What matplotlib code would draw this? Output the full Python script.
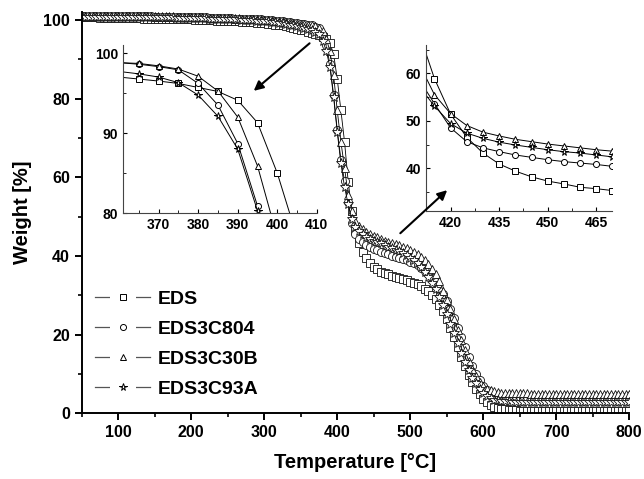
import matplotlib

matplotlib.use("Agg")
import matplotlib.pyplot as plt
import numpy as np
from matplotlib.legend_handler import HandlerTuple
from matplotlib.lines import Line2D
from matplotlib.ticker import MultipleLocator

plt.rcParams["font.family"] = ["Liberation Sans", "DejaVu Sans"]
plt.rcParams["font.weight"] = "bold"

# Temperature grid of the TGA runs, every 5 °C
temperature = np.arange(50, 805, 5)

# Weight [%], one value per temperature step
eds = [
    100.6, 100.6, 100.6, 100.6, 100.6, 100.5, 100.5, 100.5, 100.5, 100.5,
    100.5, 100.5, 100.4, 100.4, 100.4, 100.4, 100.4, 100.3, 100.3, 100.3,
    100.3, 100.3, 100.2, 100.2, 100.2, 100.2, 100.2, 100.1, 100.1, 100.1,
    100.1, 100.0, 100.0, 100.0, 99.9, 99.9, 99.9, 99.8, 99.8, 99.8,
    99.7, 99.7, 99.6, 99.6, 99.5, 99.5, 99.4, 99.4, 99.3, 99.2,
    99.1, 99.0, 98.9, 98.8, 98.7, 98.6, 98.4, 98.2, 98.0, 97.8, 97.5, 97.3, 97.0,
    96.75, 96.5, 96.2, 95.7, 95.2, 94.1, 91.3, 85.0, 77.0, 69.0,
    58.9, 51.4, 46.5, 43.2, 40.9, 39.4, 38.2, 37.3, 36.7, 36.0, 35.7, 35.3,
    35.0, 34.7, 34.4, 34.1, 33.8, 33.5, 33.2, 32.8, 32.3, 31.7, 31.0,
    30.1, 29.0, 27.6, 26.0, 24.0, 21.8, 19.4, 16.9, 14.4, 12.0,
    9.8, 7.9, 6.2, 4.8, 3.7, 2.8, 2.2, 1.7, 1.4, 1.2,
    1.0, 0.9, 0.8, 0.8, 0.7,
    0.7, 0.7, 0.7, 0.7, 0.7, 0.7, 0.7, 0.6, 0.6, 0.6,
    0.6, 0.6, 0.6, 0.6, 0.6, 0.6, 0.6, 0.6, 0.6, 0.5,
    0.5, 0.5, 0.5, 0.5, 0.5, 0.5, 0.5, 0.5, 0.5, 0.5,
]
eds3c804 = [
    101.0, 101.0, 101.0, 101.0, 101.0, 101.0, 101.0, 101.0, 101.0, 101.0,
    101.0, 101.0, 100.9, 100.9, 100.9, 100.9, 100.9, 100.9, 100.9, 100.9,
    100.8, 100.8, 100.8, 100.8, 100.8, 100.8, 100.7, 100.7, 100.7, 100.7,
    100.7, 100.6, 100.6, 100.6, 100.6, 100.5, 100.5, 100.5, 100.5, 100.4,
    100.4, 100.4, 100.3, 100.3, 100.3, 100.2, 100.2, 100.2, 100.1, 100.1,
    100.0, 100.0, 99.9, 99.8, 99.7, 99.6, 99.5, 99.4, 99.3, 99.1, 99.0, 98.9, 98.8,
    98.6, 98.3, 97.9, 96.2, 93.5, 88.7, 80.9, 72.0, 64.5, 59.0,
    53.6, 48.5, 45.6, 44.3, 43.5, 42.8, 42.3, 41.8, 41.4, 41.1, 40.8, 40.4,
    40.1, 39.8, 39.5, 39.2, 38.9, 38.5, 38.1, 37.6, 37.0, 36.3, 35.5,
    34.5, 33.3, 31.9, 30.3, 28.5, 26.5, 24.2, 21.8, 19.3, 16.8,
    14.4, 12.1, 10.1, 8.4, 7.0, 5.9, 5.1, 4.6, 4.3, 4.1,
    4.0, 4.0, 3.9, 3.9, 3.9,
    3.9, 3.9, 3.9, 3.9, 3.9, 3.9, 3.9, 3.9, 3.9, 3.9,
    3.9, 3.9, 3.9, 3.9, 3.8, 3.8, 3.8, 3.8, 3.8, 3.8,
    3.8, 3.8, 3.8, 3.8, 3.8, 3.8, 3.8, 3.8, 3.8, 3.8,
]
eds3c30b = [
    101.0, 101.0, 101.0, 101.0, 101.0, 101.0, 101.0, 101.0, 101.0, 101.0,
    101.0, 101.0, 100.9, 100.9, 100.9, 100.9, 100.9, 100.9, 100.9, 100.9,
    100.8, 100.8, 100.8, 100.8, 100.8, 100.8, 100.7, 100.7, 100.7, 100.7,
    100.7, 100.6, 100.6, 100.6, 100.6, 100.5, 100.5, 100.5, 100.5, 100.4,
    100.4, 100.4, 100.3, 100.3, 100.3, 100.2, 100.2, 100.2, 100.1, 100.1,
    100.0, 100.0, 99.9, 99.8, 99.7, 99.6, 99.5, 99.4, 99.3, 99.2, 99.0, 98.9, 98.8,
    98.7, 98.4, 98.0, 97.1, 95.25, 92.0, 85.9, 77.0, 69.0, 62.4,
    55.5, 51.5, 49.0, 47.6, 46.8, 46.1, 45.6, 45.1, 44.7, 44.3, 43.9, 43.6,
    43.3, 43.0, 42.7, 42.3, 41.9, 41.5, 41.0, 40.4, 39.7, 38.9, 37.9,
    36.7, 35.3, 33.6, 31.2, 28.8, 26.4, 23.9, 21.3, 18.7, 16.0,
    13.4, 11.2, 9.4, 8.0, 7.0, 6.3, 5.9, 5.6, 5.4, 5.3,
    5.2, 5.2, 5.1, 5.1, 5.1,
    5.1, 5.1, 5.0, 5.0, 5.0, 5.0, 5.0, 5.0, 5.0, 5.0,
    5.0, 5.0, 5.0, 5.0, 5.0, 5.0, 5.0, 5.0, 5.0, 5.0,
    5.0, 5.0, 5.0, 5.0, 5.0, 5.0, 5.0, 5.0, 5.0, 5.0,
]
eds3c93a = [
    100.8, 100.8, 100.8, 100.8, 100.8, 100.8, 100.8, 100.8, 100.8, 100.8,
    100.8, 100.8, 100.7, 100.7, 100.7, 100.7, 100.7, 100.7, 100.7, 100.7,
    100.6, 100.6, 100.6, 100.6, 100.6, 100.6, 100.5, 100.5, 100.5, 100.5,
    100.5, 100.4, 100.4, 100.4, 100.4, 100.3, 100.3, 100.3, 100.3, 100.2,
    100.2, 100.2, 100.1, 100.1, 100.0, 100.0, 99.9, 99.9, 99.8, 99.8,
    99.7, 99.6, 99.5, 99.4, 99.3, 99.2, 99.0, 98.8, 98.6, 98.4, 98.2, 97.9, 97.7,
    97.4, 97.0, 96.3, 94.75, 92.1, 88.0, 80.3, 71.5, 63.5, 57.5,
    53.1, 49.4, 47.4, 46.3, 45.5, 44.9, 44.4, 43.9, 43.5, 43.2, 42.8, 42.4,
    42.0, 41.6, 41.2, 40.7, 40.2, 39.6, 38.9, 38.1, 37.1, 36.0, 34.7,
    33.2, 31.5, 29.6, 27.5, 25.2, 22.8, 20.3, 17.8, 15.4, 13.1,
    11.0, 9.1, 7.6, 6.3, 5.3, 4.5, 3.9, 3.5, 3.3, 3.2,
    3.1, 3.1, 3.0, 3.0, 3.0,
    3.0, 3.0, 3.0, 3.0, 3.0, 3.0, 3.0, 3.0, 3.0, 3.0,
    3.0, 3.0, 3.0, 3.0, 3.0, 3.0, 3.0, 3.0, 3.0, 3.0,
    3.0, 3.0, 3.0, 3.0, 3.0, 3.0, 3.0, 3.0, 3.0, 3.0,
]

labels = ["EDS", "EDS3C804", "EDS3C30B", "EDS3C93A"]
markers = ["s", "o", "^", "*"]
series = [eds, eds3c804, eds3c30b, eds3c93a]
sizes = {"s": 5.2, "o": 5.8, "^": 6.4, "*": 7.2}


def _plain(ax):
    for side in ("top", "right"):
        ax.spines[side].set_visible(False)


fig = plt.figure(figsize=(6.44, 4.79), dpi=100)
ax = fig.add_axes([0.127, 0.137, 0.850, 0.838])
for y, m in zip(series, markers):
    ax.plot(temperature, y, color="black", lw=0.6, marker=m, ms=sizes[m],
            mfc="white", mec="#111111", mew=0.6)
ax.set_xlim(50, 800)
ax.set_ylim(0, 102)
ax.xaxis.set_major_locator(MultipleLocator(100))
ax.xaxis.set_minor_locator(MultipleLocator(50))
ax.yaxis.set_major_locator(MultipleLocator(20))
ax.yaxis.set_minor_locator(MultipleLocator(10))
ax.tick_params(which="major", length=5, width=1.4, labelsize=11.5)
ax.tick_params(which="minor", length=3, width=1.2)
for lbl in ax.get_xticklabels() + ax.get_yticklabels():
    lbl.set_fontweight("bold")
_plain(ax)
ax.spines["left"].set_linewidth(1.4)
ax.spines["bottom"].set_linewidth(1.4)
ax.set_xlabel("Temperature [°C]", fontsize=14.5, fontweight="bold", labelpad=9)
ax.set_ylabel("Weight [%]", fontsize=14.5, fontweight="bold", labelpad=8)

# legend entries "— marker —": a white dash cuts the line around the marker
handles = []
for m in markers:
    line = Line2D([], [], color="#555555", lw=0.9)
    gap = Line2D([], [], ls="", marker="_", ms=19, mew=4, color="white")
    mark = Line2D([], [], ls="", marker=m, ms=sizes[m] * 0.75, mfc="white",
                  mec="black", mew=0.7)
    handles.append((line, gap, mark))
leg = ax.legend(handles, labels, loc="lower left", bbox_to_anchor=(0.0, 0.005),
                frameon=False, fontsize=14, handlelength=2.8,
                handler_map={tuple: HandlerTuple(ndivide=1, pad=0)},
                labelspacing=0.63, handletextpad=0.42, borderaxespad=0.3)
for t in leg.get_texts():
    t.set_fontweight("bold")

# insets: same series, zoomed in
ins1 = fig.add_axes([0.191, 0.555, 0.301, 0.351], facecolor="none")
ins2 = fig.add_axes([0.661, 0.5595, 0.290, 0.347], facecolor="none")
for inset in (ins1, ins2):
    for y, m in zip(series, markers):
        inset.plot(temperature, y, color="black", lw=0.7, marker=m,
                   ms=sizes[m] * 0.75, mfc="white", mec="black", mew=0.7)
    _plain(inset)
    inset.spines["left"].set_color("#444444")
    inset.spines["bottom"].set_color("#444444")
    inset.tick_params(which="major", direction="in", length=3, labelsize=10)
    inset.tick_params(which="minor", direction="in", length=2)

ins1.set_xlim(361, 410)
ins1.set_ylim(80, 101)
ins1.xaxis.set_major_locator(MultipleLocator(10))
ins1.xaxis.set_minor_locator(MultipleLocator(5))
ins1.yaxis.set_major_locator(MultipleLocator(10))
ins1.yaxis.set_minor_locator(MultipleLocator(5))

ins2.set_xlim(412.3, 470)
ins2.set_ylim(31, 66)
ins2.xaxis.set_major_locator(MultipleLocator(15))
ins2.xaxis.set_minor_locator(MultipleLocator(7.5))
ins2.yaxis.set_major_locator(MultipleLocator(10))
ins2.yaxis.set_minor_locator(MultipleLocator(5))
for inset in (ins1, ins2):
    for lbl in inset.get_xticklabels() + inset.get_yticklabels():
        lbl.set_fontweight("bold")

arrow = dict(arrowstyle="-|>", color="black", lw=1.5, mutation_scale=14)
ax.annotate("", xy=(282.7, 81.5), xytext=(365, 94.5), arrowprops=arrow,
            annotation_clip=False, zorder=10)
ax.annotate("", xy=(553.4, 57.2), xytext=(483.6, 45.3), arrowprops=arrow,
            annotation_clip=False, zorder=10)
ax.set_zorder(3)
ax.patch.set_visible(False)

fig.savefig("out.png", dpi=100)
